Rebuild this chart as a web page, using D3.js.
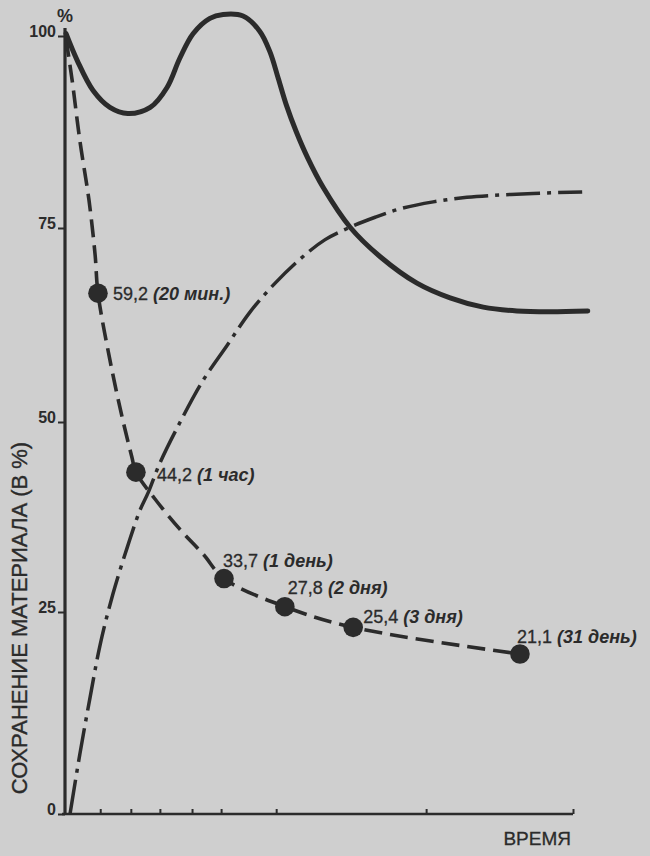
<!DOCTYPE html>
<html>
<head>
<meta charset="utf-8">
<script src="https://cdn.jsdelivr.net/npm/d3@7"></script>
<style>
  html, body { margin: 0; padding: 0; background: #cdcdcd; }
  svg { display: block; }
</style>
</head>
<body>
<svg id="chart" width="650" height="856"></svg>
<script>
// ---------- data ----------
const yTicks = [0, 25, 50, 75, 100];
const yTickLabels = ["0", "25", "50", "75", "100"];
const xTicks = [7.3, 13.3, 19.0, 25.3, 31.0, 41.8, 71.2, 100];

// solid curve
const solidX = [0.6, 2.8, 5.9, 9.2, 12.7, 17.1, 20.4, 22.9, 25.5, 28.8, 31.4, 35.3, 38.6, 40.6, 42.2, 43.8, 45.7, 48.0, 51.0, 56.3, 62.2, 69.4, 75.9, 82.4, 89.0, 95.5, 102.9];
const solidY = [100.3, 96.8, 92.9, 90.7, 89.9, 90.7, 93.3, 97.1, 100.3, 102.3, 102.8, 102.6, 100.6, 97.9, 94.5, 91.0, 87.6, 84.1, 80.3, 75.1, 71.3, 67.9, 66.0, 64.8, 64.3, 64.2, 64.3];

// dash-dot curve
const dashDotX = [1.4, 3.3, 5.3, 7.3, 9.8, 12.6, 15.1, 16.7, 19.0, 22.9, 27.5, 32.2, 36.7, 41.6, 46.5, 51.4, 56.3, 61.2, 66.1, 72.6, 79.2, 85.7, 92.2, 101.8];
const dashDotY = [0.1, 7.4, 14.4, 21.0, 27.4, 33.5, 38.4, 40.7, 44.6, 49.9, 55.4, 59.9, 64.2, 67.9, 71.0, 73.5, 75.1, 76.4, 77.5, 78.4, 79.0, 79.3, 79.5, 79.7];

// dashed curve (passes through the marked points)
const dashedX = [0.6, 1.8, 3.3, 5.1, 6.3, 6.86, 9.2, 11.6, 13.5, 14.3, 18.0, 22.9, 27.5, 31.57, 43.5, 56.9, 89.6];
const dashedY = [99.6, 94.2, 86.4, 78.6, 71.5, 66.6, 58.0, 50.6, 45.4, 43.4, 39.9, 35.9, 32.6, 29.4, 25.7, 23.1, 19.8];

// marked points
const dotX = [6.86, 14.3, 31.57, 43.5, 56.9, 89.6];
const dotY = [66.6, 43.4, 29.4, 25.7, 23.1, 19.8];
const dotValues = ["59,2", "44,2", "33,7", "27,8", "25,4", "21,1"];
const dotPeriods = ["(20 мин.)", "(1 час)", "(1 день)", "(2 дня)", "(3 дня)", "(31 день)"];

const yTitle = "СОХРАНЕНИЕ МАТЕРИАЛА (В %)";
const yUnit = "%";
const xTitle = "ВРЕМЯ";

// ---------- layout ----------
const labelDx = [15, 21, -1, 3, 10, -3];
const labelDy = [7, 9, -12, -13, -4, -11];

const ink = "#2b2b2b";
const svg = d3.select("#chart");
svg.append("rect").attr("width", 650).attr("height", 856).attr("fill", "#cfcfcf");

const x = d3.scaleLinear().domain([0, 100]).range([63, 573]);
const y = d3.scaleLinear().domain(yTicks).range([814, 612, 422, 228, 36]);

const font = "'Liberation Sans', Arial, sans-serif";

// y axis
const yAxis = d3.axisLeft(y).tickValues(yTicks).tickSize(7).tickPadding(2)
  .tickFormat((d, i) => yTickLabels[i]);
const gy = svg.append("g").attr("transform", `translate(${x(0) + 2},0)`).call(yAxis);
gy.select(".domain").remove();
gy.selectAll(".tick line").attr("stroke", ink).attr("stroke-width", 2);
gy.selectAll(".tick text").attr("font-family", font).attr("font-size", 16)
  .attr("font-weight", "bold").attr("fill", ink).attr("dy", "0.05em");
gy.append("line").attr("x1", 0).attr("x2", 0)
  .attr("y1", y(0) + 1).attr("y2", y(100) - 8)
  .attr("stroke", ink).attr("stroke-width", 3.2);

// x axis
const xAxis = d3.axisBottom(x).tickValues(xTicks).tickSize(-5).tickFormat("").tickSizeOuter(0);
const gx = svg.append("g").attr("transform", `translate(0,${y(0)})`).call(xAxis);
gx.select(".domain").attr("stroke", ink).attr("stroke-width", 2.6)
  .attr("d", `M${x(0) - 1},0H${x(100)}`);
gx.selectAll(".tick line").attr("stroke", ink).attr("stroke-width", 2);

// titles
svg.append("text").attr("x", x(0) + 2).attr("y", y(100) - 14)
  .attr("text-anchor", "middle").attr("font-family", font).attr("font-size", 18)
  .attr("font-weight", "bold").attr("fill", ink).text(yUnit);

svg.append("text").attr("transform", `translate(27,${(y(0) + y(50)) / 2}) rotate(-90)`)
  .attr("text-anchor", "middle").attr("font-family", font).attr("font-size", 22)
  .attr("fill", ink).attr("stroke", ink).attr("stroke-width", 0.35).text(yTitle);

svg.append("text").attr("x", x(100) - 2).attr("y", y(0) + 31)
  .attr("text-anchor", "end").attr("font-family", font).attr("font-size", 19)
  .attr("fill", ink).attr("stroke", ink).attr("stroke-width", 0.3).text(xTitle);

// curves
const line = d3.line().x(d => x(d[0])).y(d => y(d[1])).curve(d3.curveCatmullRom.alpha(0.5));
const zip = (a, b) => a.map((v, i) => [v, b[i]]);

svg.append("path").attr("d", line(zip(dashDotX, dashDotY)))
  .attr("fill", "none").attr("stroke", ink).attr("stroke-width", 3.5)
  .attr("stroke-dasharray", "34,7,4,7");

svg.append("path").attr("d", line(zip(dashedX, dashedY)))
  .attr("fill", "none").attr("stroke", ink).attr("stroke-width", 3.6)
  .attr("stroke-dasharray", "18,8");

svg.append("path").attr("d", line(zip(solidX, solidY)))
  .attr("fill", "none").attr("stroke", ink).attr("stroke-width", 5)
  .attr("stroke-linecap", "round");

// dots + labels
const pts = dotX.map((v, i) => ({ x: v, y: dotY[i], val: dotValues[i], per: dotPeriods[i], i }));
svg.selectAll("circle.pt").data(pts).join("circle").attr("class", "pt")
  .attr("cx", d => x(d.x)).attr("cy", d => y(d.y)).attr("r", 9.8).attr("fill", ink);

const lbl = svg.selectAll("text.lbl").data(pts).join("text").attr("class", "lbl")
  .attr("x", d => x(d.x) + labelDx[d.i]).attr("y", d => y(d.y) + labelDy[d.i])
  .attr("font-family", font).attr("font-size", 18).attr("fill", ink);
lbl.append("tspan").attr("stroke", ink).attr("stroke-width", 0.3).text(d => d.val + " ");
lbl.append("tspan").attr("font-weight", "bold").attr("font-style", "italic").text(d => d.per);
</script>
</body>
</html>
